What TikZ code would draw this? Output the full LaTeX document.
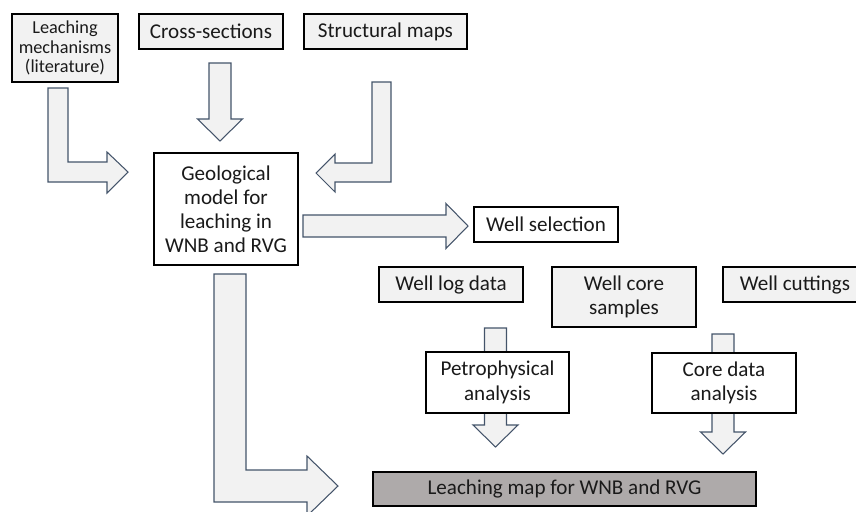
\documentclass[tikz,border=0pt]{standalone}
\usepackage{fontspec}
\setmainfont{Carlito}
\usepackage{tikz}
\usetikzlibrary{positioning}
\definecolor{inputgrey}{HTML}{F2F2F2}
\definecolor{mapgrey}{HTML}{AEAAAA}
\definecolor{arrowline}{HTML}{44546A}
\definecolor{textgrey}{HTML}{1A1A1A}
\tikzset{
data box/.style = { rectangle, draw = black, fill = inputgrey, text = textgrey, line width = 0.8pt, minimum width = 28.8mm, minimum height = 7mm, inner sep = 0pt, align = center, font = \fontsize{12}{13.6}\selectfont },
step box/.style = { data box, fill = white },
map box/.style = { data box, fill = mapgrey, minimum width = 76.6mm, minimum height = 6.8mm },
block/.style = { draw = arrowline, fill = inputgrey, line width = 0.6pt, line join = miter },
}
\tikzset{
pics/down arrow/.style = {
        code = {
        \path[block] (-11, 0) -- (11, 0) -- (11, {#1-22}) -- (22.5, {#1-22}) -- (0, #1) -- (-22.5, {#1-22}) -- (-11, {#1-22}) -- cycle;
        }
    },
pics/right arrow/.style = {
        code = {
        \path[block] (0, -11) -- ({#1-22}, -11) -- ({#1-22}, -22.5) -- (#1, 0) -- ({#1-22}, 22.5) -- ({#1-22}, 11) -- (0, 11) -- cycle;
        }
    }
}

\begin{document}
\begin{tikzpicture}[x = 0.02cm, y = -0.02cm]
    \useasboundingbox (0, 0) rectangle (856, 511);
    % block arrows
    \path[block] (48, 88) -- (68, 88) -- (68, 162) -- (107, 162) -- (107, 152) -- (128, 172) -- (107, 193) -- (107, 182) -- (48, 182) -- cycle;
    \path[block] (372, 82) -- (391, 82) -- (391, 182) -- (335, 182) -- (335, 192) -- (316, 173) -- (335, 154) -- (335, 163) -- (372, 163) -- cycle;
    \path[block] (214, 274) -- (246, 274) -- (246, 470) -- (307, 470) -- (307, 456) -- (338, 486) -- (307, 516) -- (307, 502) -- (214, 502) -- cycle;
    \draw (220, 63) pic{down arrow = 78};
    \draw (495.5, 328) pic{down arrow = 119};
    \draw (723, 334) pic{down arrow = 120};
    \draw (303, 226) pic{right arrow = 165};
    % boxes
    \node[data box, minimum width = 21.2mm, minimum height = 13.6mm, font = \fontsize{10.4}{11.2}\selectfont] (mech) at (65, 48) {Leaching\\mechanisms\\(literature)};
    \node[data box] (xsec) at (211, 31.5) {Cross-sections};
    \node[data box, minimum width = 32.6mm] (smaps) at (385.5, 31.5) {Structural maps};
    \node[step box, minimum height = 22.4mm] (geomodel) at (226, 209) {Geological\\model for\\leaching in\\WNB and RVG};
    \node[step box] (wellsel) at (546, 224.5) {Well selection};
    \node[data box] (welllog) at (451, 284.5) {Well log data};
    \node[data box, minimum height = 12mm] (wellcore) at (624, 297) {Well core\\samples};
    \node[data box] (cuttings) at (795, 284.5) {Well cuttings};
    \node[step box, minimum width = 28.6mm, minimum height = 12.2mm, font = \fontsize{12}{14}\selectfont] (petro) at (497.5, 382.5) {Petrophysical\\analysis};
    \node[step box, minimum height = 12mm, font = \fontsize{12}{14}\selectfont] (coredata) at (724, 383) {Core data\\analysis};
    \node[map box] (leachmap) at (564.5, 489) {Leaching map for WNB and RVG};
  \end{tikzpicture}
\end{document}
